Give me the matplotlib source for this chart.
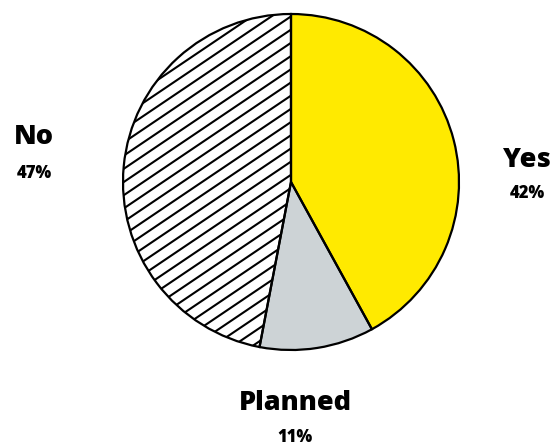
import numpy as np
import matplotlib.pyplot as plt

labels = ["Yes", "Planned", "No"]
shares = [42, 11, 47]
colors = ["#ffea00", "#cdd3d6", "white"]

plt.rcParams['font.family'] = ['Open Sans', 'DejaVu Sans']

fig = plt.figure(figsize=(5.56, 4.47), dpi=100)
ax = fig.add_axes([0, 0, 1, 1])

cx, cy, r = 291, 447 - 182, 168
wedges, _ = ax.pie(shares, colors=colors, startangle=90, counterclock=False,
                   center=(cx, cy), radius=r, frame=True,
                   wedgeprops=dict(edgecolor="none", zorder=1))

# diagonal hatching of the "No" slice
slope = np.tan(np.radians(34))
for c in np.arange(-600, 600, 13.2):
    xs = np.array([cx - r - 5, cx + r + 5])
    ln, = ax.plot(xs, cy + c + slope * (xs - cx), color="black", lw=1.5,
                  solid_capstyle="butt", zorder=2)
    ln.set_clip_path(wedges[2])

# outlines on top
ax.pie(shares, colors=["white"] * 3, startangle=90, counterclock=False,
       center=(cx, cy), radius=r, frame=True,
       wedgeprops=dict(edgecolor="black", linewidth=1.6, fill=False, zorder=5))

ax.set_xlim(0, 556)
ax.set_ylim(0, 447)
ax.axis("off")

pos = {"Yes": (527, 160, 193), "Planned": (295, 403, 438), "No": (34, 137, 173)}
for lab, s in zip(labels, shares):
    x, y1, y2 = pos[lab]
    ax.text(x, 447 - y1, lab, ha="center", va="center", fontsize=19.5,
            fontweight=800)
    ax.text(x, 447 - y2, f"{s}%", ha="center", va="center", fontsize=12,
            fontweight=800)

fig.savefig("out.png", dpi=100, facecolor="white")
